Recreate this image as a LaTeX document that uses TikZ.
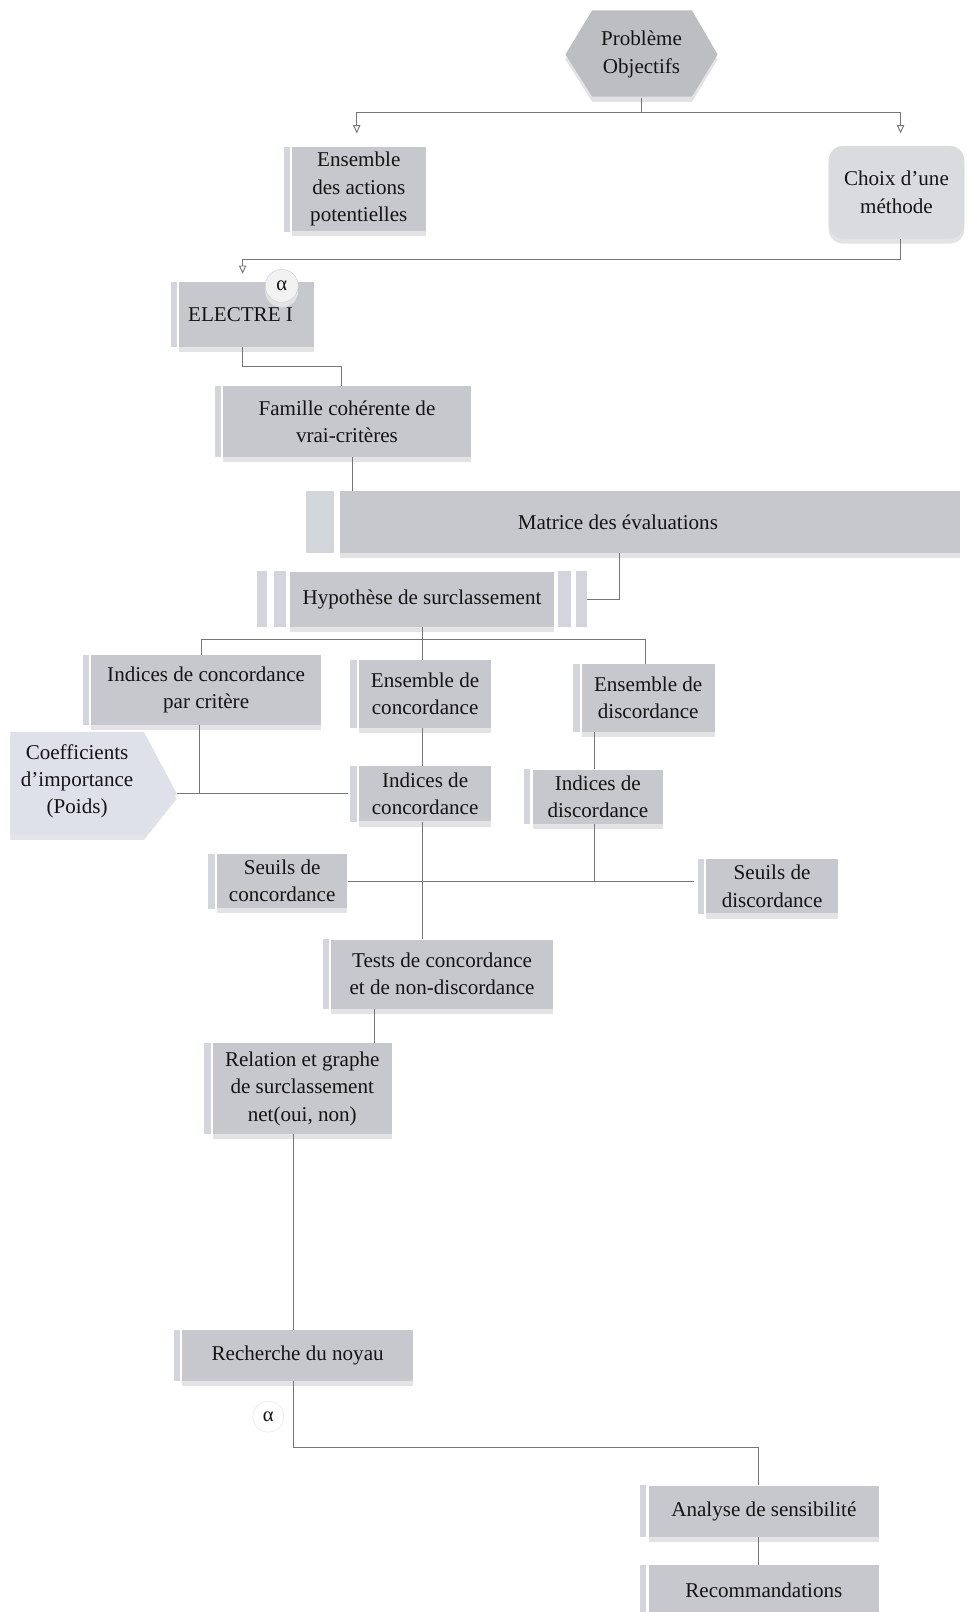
\documentclass[tikz,border=0pt]{standalone}
\usepackage{fontspec}
\setmainfont{Liberation Serif}
\usetikzlibrary{arrows.meta,shadows}

\definecolor{boxfill}{HTML}{C7C8CD}
\definecolor{barfill}{HTML}{D3D5DC}
\definecolor{lightfill}{HTML}{DADBDF}
\definecolor{hexfill}{HTML}{BDBEC2}
\definecolor{coeffill}{HTML}{DEE1E9}
\definecolor{linkcol}{HTML}{767676}
\definecolor{txtcol}{HTML}{141414}
\definecolor{shadowcol}{HTML}{E3E3E5}
\definecolor{alphafill}{HTML}{F2F2F2}
\definecolor{alphaedge}{HTML}{CFCFCF}
\definecolor{faintedge}{HTML}{E2E2E2}

\tikzset{
  softshadow/.style={drop shadow={shadow xshift=0pt, shadow yshift=-5pt, fill=shadowcol, opacity=1}},
  box/.style={rectangle, fill=boxfill, inner sep=0pt, align=center, softshadow},
  bar/.style={fill=barfill},
  link/.style={draw=linkcol, line width=0.9pt},
  arr/.style={link, -{Triangle[open, length=8pt, width=7pt]}},
  greek/.style={circle, inner sep=0pt, font=\fontsize{20}{22}\selectfont}
}

\begin{document}
\begin{tikzpicture}[x=1pt, y=-1pt, font=\fontsize{20.5}{26.5}\selectfont, text=txtcol]
\useasboundingbox (0,0) rectangle (943,1568);
\clip (0,0) rectangle (943,1568);
\fill[white] (0,0) rectangle (943,1568);

% hexagon: problem and objectives
\fill[hexfill, softshadow] (550,53) -- (576,10) -- (673,10) -- (698,53) -- (673,94) -- (576,94) -- cycle;
\node[minimum width=148pt, minimum height=84pt, inner sep=0pt, align=center] (hex) at (624,53) {Problème\\Objectifs};

% first level
\node[box, minimum width=130pt, minimum height=82pt] (ens) at (349,184) {Ensemble\\des actions\\potentielles};
\node[box, fill=lightfill, rounded corners=14pt, minimum width=132pt, minimum height=90pt] (choix) at (872,187) {Choix d'une\\méthode};

% method
\node[box, minimum width=131pt, minimum height=63pt] (electre) at (240,306) {\raisebox{-4pt}{ELECTRE I}\hspace{12pt}};
\node[greek, fill=alphafill, draw=alphaedge, minimum size=32pt, softshadow] (alpha1) at (274,278) {α};

\node[box, minimum width=241pt, minimum height=69pt] (famille) at (337.5,410) {Famille cohérente de\\vrai-critères};
\node[box, minimum width=603pt, minimum height=60pt] (matrice) at (632.5,508) {};
\node (matricetext) at (601,508) {Matrice des évaluations};
\node[box, minimum width=257pt, minimum height=54pt] (hypo) at (410.5,583) {Hypothèse de surclassement};

% concordance / discordance
\node[box, minimum width=223pt, minimum height=68pt] (ipc) at (200.5,671) {Indices de concordance\\par critère};
\node[box, minimum width=129pt, minimum height=66pt] (ec) at (413.5,675) {Ensemble de\\concordance};
\node[box, minimum width=129pt, minimum height=66pt] (ed) at (630.5,679) {Ensemble de\\discordance};

\fill[coeffill, softshadow] (10,712) -- (140,712) -- (172,772) -- (140,812) -- (10,812) -- cycle;
\node[minimum width=130pt, minimum height=100pt, inner sep=0pt, align=center] (coef) at (75,760) {Coefficients\\d'importance\\(Poids)};
\coordinate (coeftip) at (172,772);

\node[box, minimum width=129pt, minimum height=54pt] (ic) at (413.5,772) {Indices de\\concordance};
\node[box, minimum width=127pt, minimum height=53pt] (id) at (581.5,775) {Indices de\\discordance};
\node[box, minimum width=127pt, minimum height=53pt] (sc) at (274.5,857) {Seuils de\\concordance};
\node[box, minimum width=128pt, minimum height=53pt] (sd) at (751,862) {Seuils de\\discordance};

\node[box, minimum width=216pt, minimum height=67pt] (tests) at (430,947.5) {Tests de concordance\\et de non-discordance};
\node[box, minimum width=174pt, minimum height=88pt] (rel) at (294,1059) {Relation et graphe\\de surclassement\\net(oui, non)};
\node[box, minimum width=225pt, minimum height=49pt] (rech) at (289.5,1318.5) {Recherche du noyau};
\node[greek, fill=white, draw=faintedge, minimum size=30pt] (alpha2) at (261,1378) {α};
\node[box, minimum width=224pt, minimum height=50pt] (analyse) at (743,1470) {Analyse de sensibilité};
\node[box, minimum width=224pt, minimum height=50pt] (recom) at (743,1547) {Recommandations};

% side bars
\foreach \n in {ens,electre,famille,ipc,ec,ed,ic,id,sc,sd,tests,rel,rech,analyse,recom}
  \fill[bar] ([xshift=-8pt]\n.north west) rectangle ([xshift=-2pt]\n.south west);
\fill[bar] ([xshift=-33pt]matrice.north west) rectangle ([xshift=-6pt]matrice.south west);
\fill[bar] ([xshift=-32pt]hypo.north west) rectangle ([xshift=-22pt]hypo.south west);
\fill[bar] ([xshift=-15pt]hypo.north west) rectangle ([xshift=-4pt]hypo.south west);
\fill[bar] ([xshift=4pt]hypo.north east) rectangle ([xshift=16pt]hypo.south east);
\fill[bar] ([xshift=21pt]hypo.north east) rectangle ([xshift=32pt]hypo.south east);
\coordinate (hypoR) at ([xshift=32pt]hypo.east);

% connectors
\draw[arr, shorten >=13pt] (hex.south) -- ++(0,14) -| ([xshift=-2pt]ens.north);
\draw[arr, shorten >=12pt] (hex.south) -- ++(0,14) -| ([xshift=4pt]choix.north);
\draw[arr, shorten >=8pt] ([xshift=4pt]choix.south) -- ++(0,20) -| ([xshift=-4pt]electre.north);
\draw[link] ([xshift=-4pt]electre.south) -- ++(0,19) -| ([xshift=-5pt]famille.north);
\draw[link] ([xshift=5pt]famille.south) -- ([xshift=5pt]famille.south |- matrice.north);
\draw[link] ([xshift=-30pt]matrice.south) |- (hypoR);
\draw[link] (hypo.south) -- ++(0,12) coordinate (hsplit);
\draw[link] (hsplit) -| ([xshift=-5pt]ipc.north);
\draw[link] (hsplit) -| ([xshift=-3pt]ec.north);
\draw[link] (hsplit) -| ([xshift=-3pt]ed.north);
\draw[link] ([xshift=-6pt]ipc.south) -- ([xshift=-6pt]ipc.south |- coeftip);
\draw[link] (coeftip) -- ([xshift=-10pt]ic.west);
\draw[link] ([xshift=-3pt]ec.south) -- ([xshift=-3pt]ic.north);
\draw[link] ([xshift=-3pt]id.north |- ed.south) -- ([xshift=-3pt]id.north);
\draw[link] ([xshift=-3pt]id.south) -- ([xshift=-3pt]id.south |- sc.east);
\draw[link] (sc.east) -- ([xshift=-12pt]sd.west |- sc.east);
\draw[link] ([xshift=-3pt]ic.south) -- ([xshift=-3pt]ic.south |- tests.north);
\draw[link] ([xshift=-66pt]tests.south) -- ([xshift=-66pt]tests.south |- rel.north);
\draw[link] ([xshift=-4pt]rech.north |- rel.south) -- ([xshift=-4pt]rech.north);
\draw[link] ([xshift=-4pt]rech.south) -- ++(0,65) -| ([xshift=-5pt]analyse.north);
\draw[link] ([xshift=-5pt]analyse.south) -- ([xshift=-5pt]recom.north);
\end{tikzpicture}
\end{document}
